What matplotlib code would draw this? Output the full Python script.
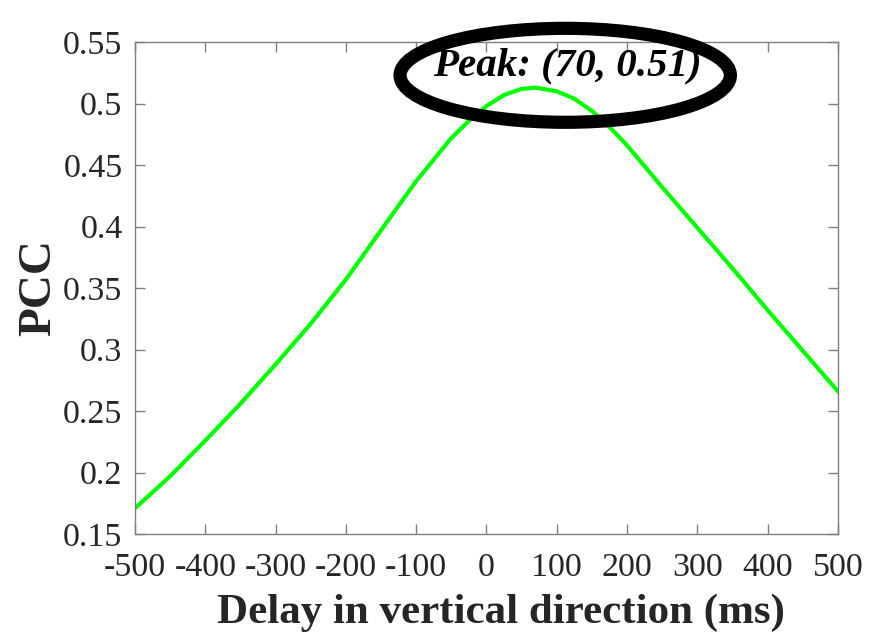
import matplotlib
matplotlib.use("Agg")
import matplotlib.pyplot as plt
from matplotlib.patches import Ellipse

# delay (ms) and Pearson correlation coefficient
delay = [-500, -450, -400, -350, -300, -250, -200, -150, -100, -50, -25, 0,
         25, 50, 70, 100, 125, 150, 175, 200, 250, 300, 350, 400, 450, 500]
pcc = [0.171, 0.197, 0.226, 0.256, 0.288, 0.321, 0.357, 0.397, 0.437, 0.472, 0.486, 0.498,
       0.507, 0.512, 0.513, 0.510, 0.504, 0.494, 0.481, 0.466, 0.432, 0.399, 0.366, 0.332, 0.299, 0.266]

peak_x = 70
peak_y = 0.51
xticks = [-500, -400, -300, -200, -100, 0, 100, 200, 300, 400, 500]
yticks = [0.15, 0.2, 0.25, 0.3, 0.35, 0.4, 0.45, 0.5, 0.55]
ytick_labels = ["0.15", "0.2", "0.25", "0.3", "0.35", "0.4", "0.45", "0.5", "0.55"]

plt.rcParams['font.family'] = ['Liberation Serif', 'DejaVu Serif']

fig = plt.figure(figsize=(8.78, 6.38), dpi=100)
ax = fig.add_axes([0.1538, 0.163, 0.8006, 0.771])

ax.plot(delay, pcc, color='#00ff00', linewidth=3)

ax.set_xlim(-500, 500)
ax.set_ylim(0.15, 0.55)
ax.set_xticks(xticks)
ax.set_xticklabels([str(t) for t in xticks])
ax.set_yticks(yticks)
ax.set_yticklabels(ytick_labels)

for s in ax.spines.values():
    s.set_color('#808080')
    s.set_linewidth(1)
ax.tick_params(direction='in', top=True, right=True, length=7, width=1,
               color='#808080', labelsize=24.5, labelcolor='#262626')
ax.tick_params(axis='y', pad=9)
ax.tick_params(axis='x', pad=13)

ax.set_xlabel("Delay in vertical direction (ms)", fontsize=31, fontweight='bold',
              color='#262626', labelpad=8)
ax.xaxis.label.set_x(0.52)
ax.set_ylabel("PCC", fontsize=34, fontweight='bold', color='#262626', labelpad=2)

# peak annotation ring
ell = Ellipse((112, 0.523), 470, 0.0764, fill=False, edgecolor='black',
              linewidth=9.5, clip_on=False, zorder=5)
ax.add_patch(ell)
ax.text(115, 0.531, "Peak: (%d, %.2f)" % (peak_x, peak_y), fontsize=29.5,
        fontweight='bold', fontstyle='italic', ha='center', va='center',
        color='black', zorder=6)

fig.savefig("out.png", dpi=100)
